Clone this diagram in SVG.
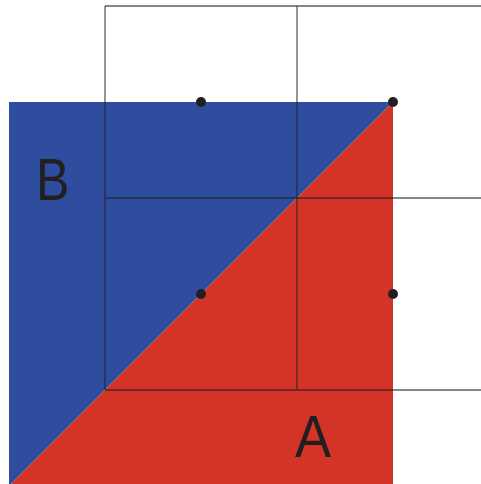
<svg xmlns="http://www.w3.org/2000/svg" width="481" height="484" viewBox="0 0 481 484">
<style>
.grid{stroke:#231f20;stroke-opacity:0.72;stroke-width:1.3;fill:none}
.dot{fill:#231f20}
.lbl{font-family:"Liberation Sans",Arial,sans-serif;font-size:59px;fill:#231f20}
</style>
<g id="regionB"><polygon points="9,102 393,102 9,486" fill="#2f4d9f"/></g>
<g id="regionA"><polygon points="393,102 393,486 9,486" fill="#d33427"/></g>
<g id="grid" class="grid">
<line x1="105" y1="6" x2="481" y2="6"/>
<line x1="105" y1="198" x2="481" y2="198"/>
<line x1="105" y1="390" x2="481" y2="390"/>
<line x1="105" y1="6" x2="105" y2="390"/>
<line x1="297" y1="6" x2="297" y2="390"/>
</g>
<g id="dots">
<circle class="dot" cx="201" cy="102" r="5"/>
<circle class="dot" cx="393" cy="102" r="5"/>
<circle class="dot" cx="201" cy="294" r="5"/>
<circle class="dot" cx="393" cy="294" r="5"/>
</g>
<g id="labelB"><text class="lbl" transform="translate(36,200) scale(0.85,1)" x="0" y="0">B</text></g>
<g id="labelA"><text class="lbl" transform="translate(295,457) scale(0.92,1)" x="0" y="0">A</text></g>
</svg>
